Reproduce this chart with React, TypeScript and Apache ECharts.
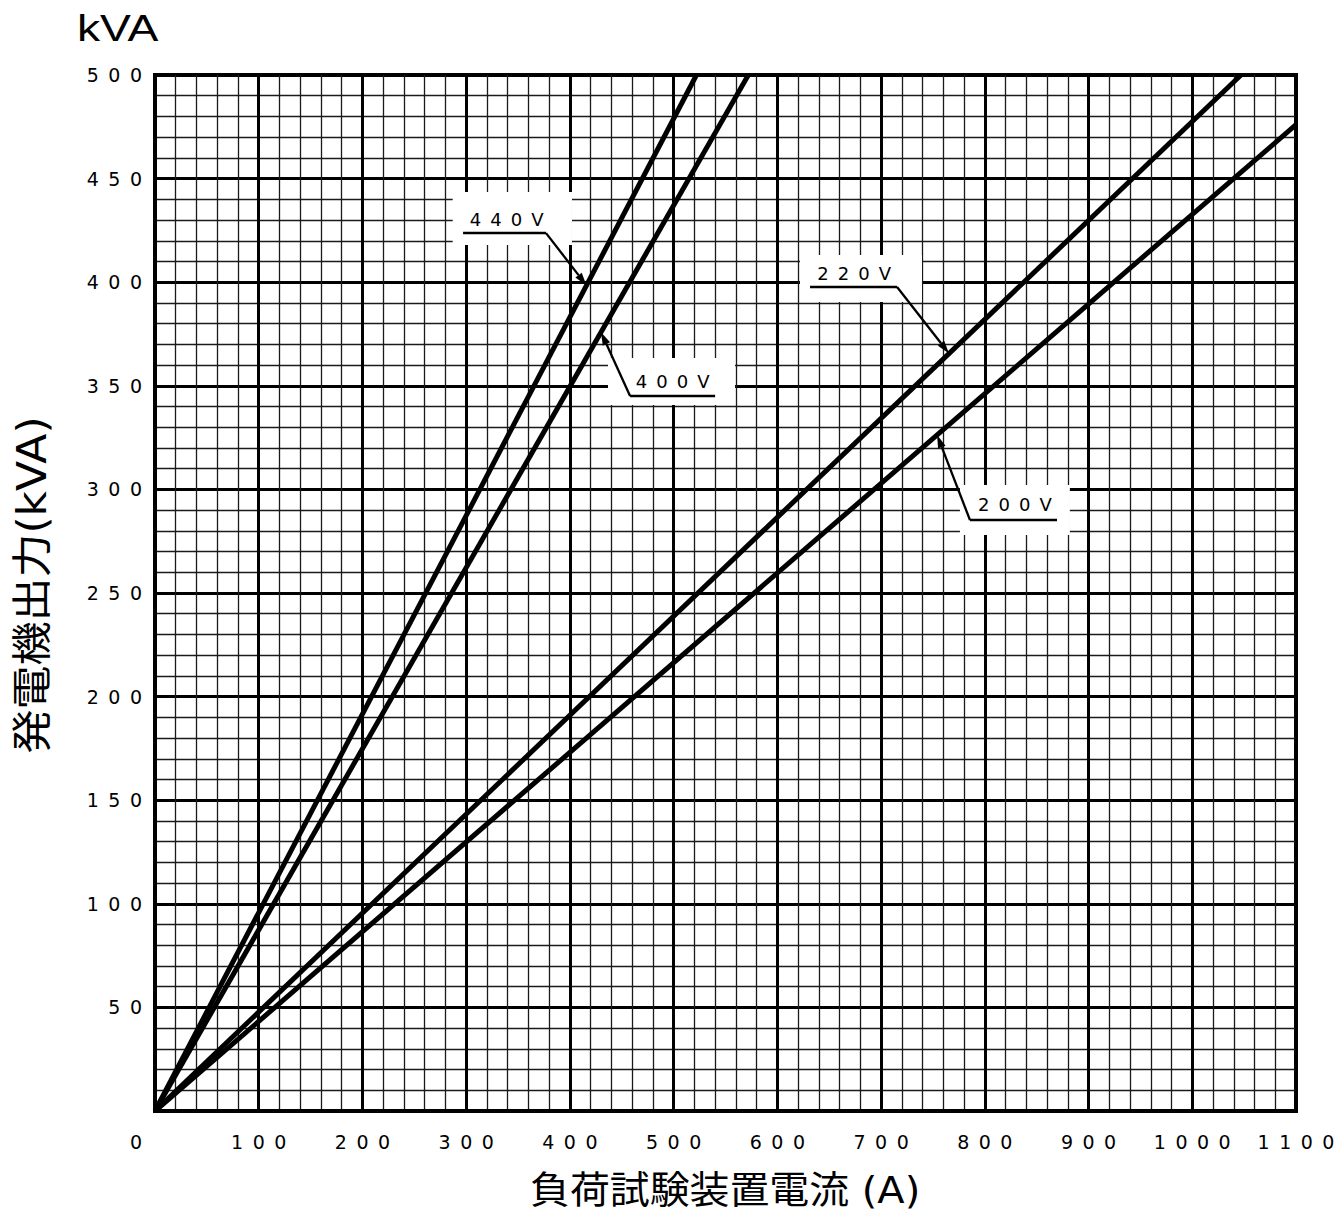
import React, { useEffect, useRef } from 'react';
import * as echarts from 'echarts';

// ---- data (A -> kVA), straight lines through the origin ----
const seriesNames = ['440V', '400V', '220V', '200V'];
const line440 = [[0, 0], [522, 500]];
const line400 = [[0, 0], [572, 500]];
const line220 = [[0, 0], [1047, 500]];
const line200 = [[0, 0], [1100, 476]];
const seriesData = [line440, line400, line220, line200];

// ---- annotations, in data units (A, kVA) ----
const noteText = ['440V', '400V', '220V', '200V'];
const noteCenter = [[339, 430.5], [499, 352.3], [674, 404.4], [829, 292.5]];
const noteUnderline = [[297, 377, 423.7], [458, 540, 345.1], [631.5, 715.4, 397.7], [785.7, 869.6, 285.2]];
const noteLeaderFromRight = [true, false, true, false];
const noteTipCurrent = [416, 430, 765.5, 754];
const noteMask = [[287, 402, 443.5, 418], [436.7, 559.2, 363.4, 340.7], [621.8, 739.4, 413.1, 390.4], [776, 882, 302.1, 278]];

const yTitle = '発電機出力(kVA)';
const xTitle = '負荷試験装置電流 (A)';
const unitTitle = 'kVA';

const spaced = (s: string) => s.split('').join('\u2002');
const LABEL_FONT = 'DejaVu Sans';

export default function App() {
  const ref = useRef<HTMLDivElement>(null);
  useEffect(() => {
    if (!ref.current) return;
    const chart = echarts.init(ref.current, null, { renderer: 'svg' });
    const axisLabelBase = { fontFamily: LABEL_FONT, fontSize: 19, color: '#000' };
    chart.setOption({
      animation: false,
      backgroundColor: '#fff',
      grid: { left: 155, right: 44, top: 75, bottom: 101, show: true, borderColor: '#000', borderWidth: 4, backgroundColor: 'transparent' },
      xAxis: {
        type: 'value', min: 0, max: 1100, interval: 100,
        axisLine: { show: true, onZero: false, lineStyle: { color: '#000', width: 4 } },
        axisTick: { show: false },
        axisLabel: {
          ...axisLabelBase, margin: 21, showMinLabel: true, showMaxLabel: true,
          formatter: (v: number) => (v === 0 ? '{z|0}' : spaced(String(v))),
          rich: { z: { ...axisLabelBase, padding: [0, 38, 0, 0] } },
        },
        splitLine: { show: true, lineStyle: { color: '#000', width: 3 } },
        minorTick: { show: false, splitNumber: 5 },
        minorSplitLine: { show: true, lineStyle: { color: '#1a1a1a', width: 1.3 } },
      },
      yAxis: {
        type: 'value', min: 0, max: 500, interval: 50,
        axisLine: { show: true, onZero: false, lineStyle: { color: '#000', width: 4 } },
        axisTick: { show: false },
        axisLabel: {
          ...axisLabelBase, margin: 13, showMaxLabel: true,
          formatter: (v: number) => (v === 0 ? '' : spaced(String(v))),
        },
        splitLine: { show: true, lineStyle: { color: '#000', width: 3 } },
        minorTick: { show: false, splitNumber: 5 },
        minorSplitLine: { show: true, lineStyle: { color: '#1a1a1a', width: 1.3 } },
      },
      series: seriesData.map((d, i) => ({
        type: 'line', name: seriesNames[i], data: d, symbol: 'none', silent: true, z: 5,
        lineStyle: { color: '#000', width: 5 },
      })),
    });

    const px = (p: number[]) => chart.convertToPixel({ gridIndex: 0 }, p) as number[];
    const graphics: any[] = [];
    noteText.forEach((t, i) => {
      const m = noteMask[i];
      const a = px([m[0], m[2]]);
      const b = px([m[1], m[3]]);
      graphics.push({ type: 'rect', z: 10, shape: { x: a[0], y: a[1], width: b[0] - a[0], height: b[1] - a[1] }, style: { fill: '#fff' } });
      const c = px(noteCenter[i]);
      graphics.push({ type: 'text', z: 12, x: c[0], y: c[1], style: { text: spaced(t), fontFamily: LABEL_FONT, fontSize: 18, fill: '#000', align: 'center', verticalAlign: 'middle' } });
      const u = noteUnderline[i];
      const u1 = px([u[0], u[2]]);
      const u2 = px([u[1], u[2]]);
      graphics.push({ type: 'line', z: 12, shape: { x1: u1[0], y1: u1[1], x2: u2[0], y2: u2[1] }, style: { stroke: '#000', lineWidth: 2.5 } });
      const start = noteLeaderFromRight[i] ? u2 : u1;
      const last = seriesData[i][seriesData[i].length - 1];
      const tipI = noteTipCurrent[i];
      const tip = px([tipI, (last[1] / last[0]) * tipI]);
      const dx = tip[0] - start[0];
      const dy = tip[1] - start[1];
      const len = Math.hypot(dx, dy);
      const ux = dx / len, uy = dy / len;
      const headL = 13, headW = 4;
      const base = [tip[0] - ux * headL, tip[1] - uy * headL];
      graphics.push({ type: 'line', z: 12, shape: { x1: start[0], y1: start[1], x2: base[0], y2: base[1] }, style: { stroke: '#000', lineWidth: 2.3 } });
      graphics.push({
        type: 'polygon', z: 12,
        shape: { points: [tip, [base[0] - uy * headW, base[1] + ux * headW], [base[0] + uy * headW, base[1] - ux * headW]] },
        style: { fill: '#000' },
      });
    });
    graphics.push({ type: 'text', z: 12, x: 77, y: 28, scaleX: 1.25, style: { text: unitTitle, fontFamily: 'Liberation Sans', fontSize: 37, fill: '#000', align: 'left', verticalAlign: 'middle' } });
    graphics.push({ type: 'text', z: 12, x: 32, y: 585, rotation: Math.PI / 2, scaleX: 1.1, style: { text: yTitle, fontFamily: 'DejaVu Sans, Noto Sans CJK JP', fontSize: 40, fill: '#000', align: 'center', verticalAlign: 'middle' } });
    graphics.push({ type: 'text', z: 12, x: 530, y: 1190, scaleX: 1.05, style: { text: xTitle, fontFamily: 'DejaVu Sans, Noto Sans CJK JP', fontSize: 38, fill: '#000', align: 'left', verticalAlign: 'middle' } });
    chart.setOption({ graphic: graphics });

    return () => chart.dispose();
  }, []);
  return <div ref={ref} style={{ position: 'absolute', left: 0, top: 0, width: 1340, height: 1212 }} />;
}
